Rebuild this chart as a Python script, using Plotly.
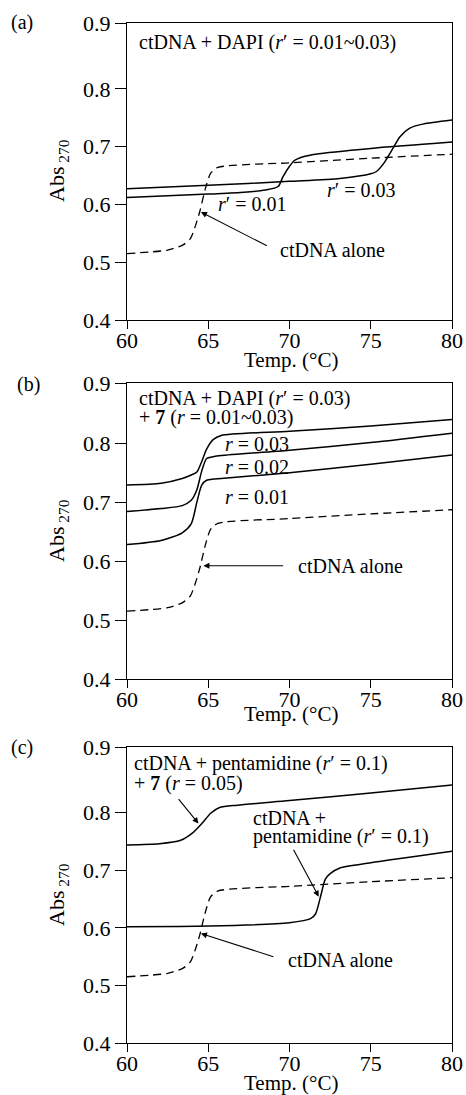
import plotly.graph_objects as go

W, H = 466, 1095
FONT = "Liberation Serif, Times New Roman, DejaVu Serif, serif"

# ---------------- data ----------------
T_alone = [60, 62.5, 63.45, 63.9, 64.2, 64.5, 64.8, 65.15, 65.6, 70, 75, 80]
A_alone = [0.515, 0.521, 0.530, 0.541, 0.562, 0.590, 0.625, 0.654, 0.664, 0.672, 0.680, 0.687]

# panel (a): ctDNA + DAPI
T_dapi001 = [60, 65, 67.2, 68.5, 69.3, 69.6, 70.0, 70.3, 70.9, 71.6, 75, 80]
A_dapi001 = [0.612, 0.618, 0.621, 0.625, 0.631, 0.648, 0.666, 0.676, 0.683, 0.687, 0.697, 0.708]
T_dapi003 = [60, 65, 70, 73.1, 75, 75.35, 75.8, 76.3, 76.8, 77.4, 78.2, 80]
A_dapi003 = [0.627, 0.633, 0.640, 0.645, 0.653, 0.657, 0.671, 0.694, 0.717, 0.732, 0.739, 0.746]

# panel (b): ctDNA + DAPI (r'=0.03) + 7
T_b = [60, 62.1, 63.4, 63.95, 64.3, 64.6, 64.9, 65.3, 65.8, 70, 75, 80]
A_r003 = [0.729, 0.732, 0.740, 0.746, 0.751, 0.769, 0.790, 0.806, 0.813, 0.820, 0.829, 0.840]
A_r002 = [0.684, 0.689, 0.694, 0.703, 0.721, 0.753, 0.774, 0.777, 0.779, 0.788, 0.801, 0.817]
A_r001 = [0.628, 0.635, 0.648, 0.663, 0.700, 0.729, 0.737, 0.739, 0.740, 0.750, 0.764, 0.780]

# panel (c): pentamidine
T_pent7 = [60, 62, 63.3, 64.0, 64.6, 65.15, 65.7, 66.8, 70, 75, 80]
A_pent7 = [0.744, 0.746, 0.752, 0.764, 0.781, 0.799, 0.809, 0.813, 0.821, 0.834, 0.848]
T_pent = [60, 65, 70, 71.3, 71.6, 71.9, 72.2, 72.5, 73.1, 75, 80]
A_pent = [0.602, 0.603, 0.609, 0.616, 0.624, 0.653, 0.684, 0.694, 0.704, 0.713, 0.733]

x_ticks = [60, 65, 70, 75, 80]
y_ticks = [0.4, 0.5, 0.6, 0.7, 0.8, 0.9]
y_tick_text = ["0.4", "0.5", "0.6", "0.7", "0.8", "0.9"]
y_tops = [0.914, 0.902, 0.914]   # frame top carries the 0.9 label

# ---------------- layout geometry ----------------
def py2paper(p):
    return 1 - p / H

x_dom = [127 / W, 452 / W]
y_doms = [[py2paper(320), py2paper(23)],
          [py2paper(679), py2paper(383)],
          [py2paper(1043), py2paper(747)]]

fig = go.Figure()

solid = dict(color="black", width=1.5, shape="spline", smoothing=0.7)
dashed = dict(color="black", width=1.3, dash="8px,5px", shape="spline", smoothing=0.7)

def add(x, y, line, k):
    sfx = "" if k == 1 else str(k)
    fig.add_trace(go.Scatter(x=x, y=y, mode="lines", line=line,
                             xaxis="x" + sfx, yaxis="y" + sfx, showlegend=False,
                             hoverinfo="skip"))

add(T_alone, A_alone, dashed, 1)
add(T_dapi001, A_dapi001, solid, 1)
add(T_dapi003, A_dapi003, solid, 1)
add(T_alone, A_alone, dashed, 2)
add(T_b, A_r001, solid, 2)
add(T_b, A_r002, solid, 2)
add(T_b, A_r003, solid, 2)
add(T_alone, A_alone, dashed, 3)
add(T_pent, A_pent, solid, 3)
add(T_pent7, A_pent7, solid, 3)

layout = dict(width=W, height=H, margin=dict(l=0, r=0, t=0, b=0, pad=0), autosize=False,
              paper_bgcolor="white", plot_bgcolor="white", showlegend=False)

for i in range(3):
    k = i + 1
    sfx = "" if k == 1 else str(k)
    tv = y_ticks[:-1] + [y_tops[i]]
    layout["xaxis" + sfx] = dict(
        domain=x_dom, range=[60, 80], tickvals=x_ticks, ticks="outside", ticklen=8,
        tickwidth=1.2, tickcolor="black", showline=True, linecolor="black", linewidth=1.2,
        mirror=True, showgrid=False, zeroline=False, anchor="y" + sfx, automargin=False,
        ticklabelstandoff=-8,
        tickfont=dict(family=FONT, size=22, color="black"))
    layout["yaxis" + sfx] = dict(
        domain=y_doms[i], range=[0.4, y_tops[i]], tickvals=tv, ticktext=y_tick_text,
        ticks="outside", ticklen=11, tickwidth=1.2, tickcolor="black", showline=True,
        linecolor="black", linewidth=1.2, mirror=True, showgrid=False, zeroline=False,
        anchor="x" + sfx, automargin=False, tickfont=dict(family=FONT, size=22, color="black"))

fig.update_layout(**layout)

tf = dict(family=FONT, size=20, color="black")
ann = []

def text(x, y, s, k, xanchor="left"):
    sfx = "" if k == 1 else str(k)
    ann.append(dict(x=x, y=y, xref="x" + sfx, yref="y" + sfx, text=s, showarrow=False,
                    xanchor=xanchor, yanchor="middle", font=tf))

def arrow(hx, hy, tx, ty, k):
    sfx = "" if k == 1 else str(k)
    ann.append(dict(x=hx, y=hy, ax=tx, ay=ty, xref="x" + sfx, yref="y" + sfx,
                    axref="x" + sfx, ayref="y" + sfx, text="", showarrow=True,
                    arrowhead=2, arrowsize=1.1, arrowwidth=1.1, arrowcolor="black",
                    standoff=0, startstandoff=0))

# panel a
text(60.6, 0.880, "ctDNA + DAPI (<i>r</i>′ = 0.01~0.03)", 1)
text(65.5, 0.601, "<i>r</i>′ = 0.01", 1)
text(72.2, 0.625, "<i>r</i>′ = 0.03", 1)
text(69.3, 0.521, "ctDNA alone", 1)
arrow(64.55, 0.587, 68.7, 0.527, 1)

# panel b
text(60.6, 0.876, "ctDNA + DAPI (<i>r</i>′ = 0.03)", 2)
text(60.6, 0.843, "+ <b>7</b> (<i>r</i> = 0.01~0.03)", 2)
text(65.9, 0.798, "<i>r</i> = 0.03", 2)
text(65.9, 0.760, "<i>r</i> = 0.02", 2)
text(65.9, 0.708, "<i>r</i> = 0.01", 2)
text(70.4, 0.592, "ctDNA alone", 2)
arrow(64.7, 0.592, 69.7, 0.592, 2)

# panel c
text(60.3, 0.886, "ctDNA + pentamidine (<i>r</i>′ = 0.1)", 3)
text(60.3, 0.851, "+ <b>7</b> (<i>r</i> = 0.05)", 3)
arrow(64.4, 0.781, 63.1, 0.826, 3)
text(67.6, 0.791, "ctDNA +", 3)
text(67.6, 0.758, "pentamidine (<i>r</i>′ = 0.1)", 3)
arrow(71.8, 0.654, 70.2, 0.738, 3)
text(69.8, 0.545, "ctDNA alone", 3)
arrow(64.55, 0.590, 69.1, 0.549, 3)

# panel letters and axis titles (paper coords)
for lab, cx, cy in [("(a)", 22, 23), ("(b)", 28, 384), ("(c)", 22, 747)]:
    ann.append(dict(x=cx / W, y=py2paper(cy), xref="paper", yref="paper", text=lab,
                    showarrow=False, xanchor="center", yanchor="middle", font=tf))
for cy in [171, 531, 895]:
    ann.append(dict(x=58 / W, y=py2paper(cy), xref="paper", yref="paper",
                    text="Abs<sub> 270</sub>", textangle=-90, showarrow=False,
                    xanchor="center", yanchor="middle",
                    font=dict(family=FONT, size=22, color="black")))
for cy in [360, 714, 1083]:
    ann.append(dict(x=291 / W, y=py2paper(cy), xref="paper", yref="paper",
                    text="Temp. (°C)", showarrow=False, xanchor="center", yanchor="middle",
                    font=dict(family=FONT, size=21, color="black")))

fig.update_layout(annotations=ann)
fig.write_html("out.html")
